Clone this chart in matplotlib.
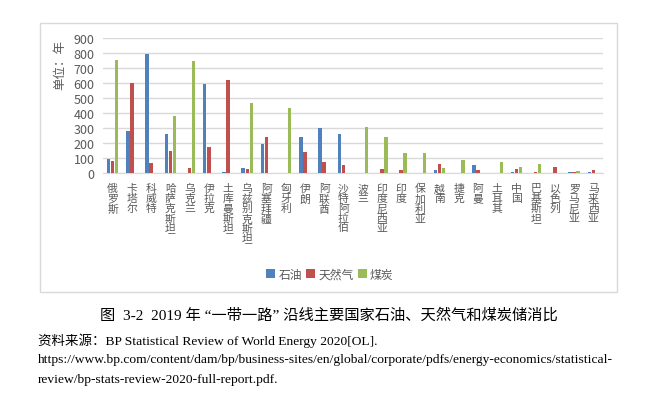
import numpy as np
import matplotlib
matplotlib.use("Agg")
import matplotlib.pyplot as plt
from matplotlib.patches import Rectangle

plt.rcParams['font.family'] = ['Noto Sans CJK SC', 'DejaVu Sans']

countries = ["俄罗斯", "卡塔尔", "科威特", "哈萨克斯坦", "乌克兰", "伊拉克", "土库曼斯坦",
             "乌兹别克斯坦", "阿塞拜疆", "匈牙利", "伊朗", "阿联酋", "沙特阿拉伯", "波兰",
             "印度尼西亚", "印度", "保加利亚", "越南", "捷克", "阿曼", "土耳其", "中国",
             "巴基斯坦", "以色列", "罗马尼亚", "马来西亚"]
oil = [97, 281, 794, 265, 0, 597, 9, 38, 197, 0, 243, 305, 261, 1,
       3, 0, 0, 22, 0, 55, 0, 6, 0, 0, 7, 9]
gas = [84, 600, 71, 148, 35, 177, 619, 27, 241, 2, 142, 75, 55, 2,
       31, 22, 0, 64, 0, 24, 0, 27, 9, 42, 9, 22]
coal = [754, 0, 0, 380, 746, 0, 0, 471, 0, 438, 0, 0, 0, 307,
        243, 137, 133, 35, 88, 0, 75, 40, 62, 0, 15, 0]
series_names = ["石油", "天然气", "煤炭"]
colors = ["#4F81BD", "#C0504D", "#9BBB59"]

serif = ['Liberation Serif', 'Noto Sans CJK SC']
gray = "#595959"

fig = plt.figure(figsize=(6.53, 4.06), dpi=100)
W, H = 653, 406

# chart frame
fig.patches.append(Rectangle((39.5 / W, 1 - 293 / H), (617 - 39.5) / W, (293 - 24.3) / H,
                             transform=fig.transFigure, fill=False,
                             edgecolor="#D9D9D9", linewidth=1))

ax = fig.add_axes([103 / W, 1 - 174.3 / H, (603 - 103) / W, (174.3 - 39.3) / H])
x = np.arange(len(countries))
bw = 0.18
for i, (vals, name, c) in enumerate(zip([oil, gas, coal], series_names, colors)):
    ax.bar(x + (i - 1) * 0.21, vals, bw, color=c, label=name, zorder=3)

ax.set_xlim(-0.5, len(countries) - 0.5)
ax.set_ylim(0, 900)
ax.set_yticks(range(0, 901, 100))
ax.yaxis.grid(True, color="#D9D9D9", linewidth=1, zorder=0)
for s in ["top", "right", "left"]:
    ax.spines[s].set_visible(False)
ax.spines["bottom"].set_color("#D9D9D9")
ax.tick_params(axis="both", length=0, colors=gray, labelsize=9)
ax.tick_params(axis="y", pad=6)
ax.tick_params(axis="x", pad=7)
ax.set_xticks(x)
ax.set_xticklabels(["\n".join(c) for c in countries], va="top", linespacing=1.0,
                   fontsize=7.8)

fig.text(60 / W, 1 - 65 / H, "单位：年", rotation=90, ha="center", va="center",
         color=gray, fontsize=9)

handles, labels = ax.get_legend_handles_labels()
fig.legend(handles, labels, loc="center", bbox_to_anchor=(330 / W, 1 - 275 / H), ncol=3,
           frameon=False, fontsize=8.5, handlelength=0.7, handleheight=0.7,
           handletextpad=0.3, columnspacing=0.4, labelcolor=gray)

fig.text(329 / W, 1 - 315 / H,
         "图  3-2  2019 年 “一带一路” 沿线主要国家石油、天然气和煤炭储消比",
         ha="center", va="center", fontsize=11, family=serif)
fig.text(38 / W, 1 - 341 / H, "资料来源：BP Statistical Review of World Energy 2020[OL].",
         ha="left", va="center", fontsize=9.7, family=serif)
fig.text(38 / W, 1 - 360 / H,
         "https://www.bp.com/content/dam/bp/business-sites/en/global/corporate/pdfs/energy-economics/statistical-",
         ha="left", va="center", fontsize=9.7, family=serif)
fig.text(38 / W, 1 - 380 / H, "review/bp-stats-review-2020-full-report.pdf.",
         ha="left", va="center", fontsize=9.7, family=serif)

fig.savefig("out.png", dpi=100)
plt.close()
